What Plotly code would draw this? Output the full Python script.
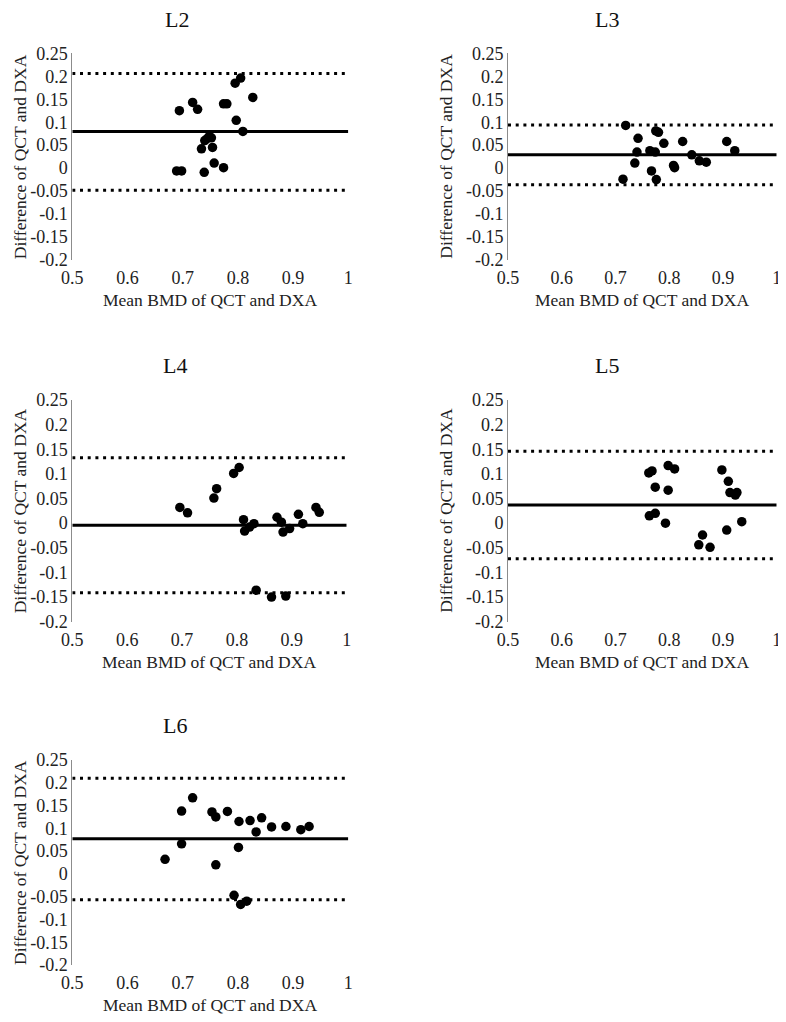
import plotly.graph_objects as go

# ---------------- data ----------------
panel_names = ["L2", "L3", "L4", "L5", "L6"]

l2_mean_bmd = [0.694, 0.718, 0.727, 0.774, 0.780, 0.795, 0.805, 0.827, 0.797, 0.809,
               0.734, 0.754, 0.740, 0.748, 0.744, 0.752, 0.757, 0.774, 0.739, 0.689, 0.698]
l2_diff = [0.125, 0.143, 0.128, 0.140, 0.140, 0.185, 0.196, 0.154, 0.104, 0.080,
           0.042, 0.045, 0.060, 0.069, 0.064, 0.066, 0.011, 0.001, -0.009, -0.006, -0.006]

l3_mean_bmd = [0.719, 0.775, 0.780, 0.742, 0.790, 0.825, 0.907, 0.922, 0.740, 0.764,
               0.774, 0.842, 0.856, 0.869, 0.736, 0.808, 0.810, 0.767, 0.714, 0.776]
l3_diff = [0.093, 0.081, 0.078, 0.065, 0.054, 0.058, 0.058, 0.038, 0.035, 0.038,
           0.035, 0.029, 0.016, 0.013, 0.011, 0.006, 0.001, -0.006, -0.024, -0.025]

l4_mean_bmd = [0.696, 0.710, 0.758, 0.763, 0.794, 0.804, 0.812, 0.814, 0.823, 0.831,
               0.873, 0.881, 0.884, 0.896, 0.912, 0.920, 0.944, 0.950, 0.835, 0.863, 0.889]
l4_diff = [0.032, 0.021, 0.051, 0.070, 0.101, 0.113, 0.007, -0.016, -0.008, -0.001,
           0.012, 0.002, -0.018, -0.011, 0.018, -0.001, 0.032, 0.022, -0.136, -0.150, -0.148]

l5_mean_bmd = [0.762, 0.768, 0.798, 0.810, 0.774, 0.798, 0.898, 0.910, 0.913, 0.926,
               0.923, 0.763, 0.774, 0.793, 0.935, 0.907, 0.862, 0.855, 0.876]
l5_diff = [0.102, 0.106, 0.117, 0.110, 0.073, 0.067, 0.108, 0.085, 0.062, 0.062,
           0.057, 0.015, 0.020, 0.000, 0.003, -0.014, -0.024, -0.044, -0.049]

l6_mean_bmd = [0.668, 0.698, 0.698, 0.718, 0.753, 0.760, 0.781, 0.760, 0.802, 0.822,
               0.843, 0.833, 0.861, 0.887, 0.914, 0.929, 0.801, 0.793, 0.805, 0.816]
l6_diff = [0.032, 0.138, 0.066, 0.167, 0.136, 0.125, 0.137, 0.020, 0.115, 0.117,
           0.123, 0.092, 0.103, 0.104, 0.097, 0.104, 0.058, -0.047, -0.067, -0.060]

mean_diff = [0.080, 0.029, -0.004, 0.037, 0.077]
upper_loa = [0.206, 0.094, 0.133, 0.146, 0.210]
lower_loa = [-0.048, -0.036, -0.141, -0.072, -0.057]

x_tick_vals = [0.5, 0.6, 0.7, 0.8, 0.9, 1.0]
x_tick_text = ["0.5", "0.6", "0.7", "0.8", "0.9", "1"]
y_tick_vals = [-0.2, -0.15, -0.1, -0.05, 0, 0.05, 0.1, 0.15, 0.2, 0.25]
y_tick_text = ["-0.2", "-0.15", "-0.1", "-0.05", "0", "0.05", "0.1", "0.15", "0.2", "0.25"]
x_range = [0.5, 1.0]
y_range = [-0.2, 0.25]

x_title = "Mean BMD of QCT and DXA"
y_title = "Difference of QCT and DXA"

xs = [l2_mean_bmd, l3_mean_bmd, l4_mean_bmd, l5_mean_bmd, l6_mean_bmd]
ys = [l2_diff, l3_diff, l4_diff, l5_diff, l6_diff]

# ---------------- layout (pixels in the 786x1022 window) ----------------
OFF = 8                      # default page body margin
W, H = 786 - OFF, 1022 - OFF
# plot area boxes: left, right, top, bottom
boxes = [
    (72.3, 348.3, 53.3, 260.0),
    (508.0, 776.7, 53.3, 260.0),
    (72.3, 346.7, 400.0, 621.7),
    (508.0, 776.7, 400.0, 621.7),
    (72.3, 348.3, 760.0, 965.0),
]
title_pos = [(176.7, 20), (606.7, 20), (175, 365), (606.7, 365), (175, 725)]
ytitle_x = [19.5, 446, 19.5, 446, 19.5]

FONT = "Liberation Serif"
TICK_SIZE = 18
TITLE_SIZE = 17.5
PANEL_TITLE_SIZE = 22


def px(x):
    return (x - OFF) / W


def py(y):
    return 1 - (y - OFF) / H


fig = go.Figure()
annotations = []
layout_axes = {}

for i, name in enumerate(panel_names):
    n = "" if i == 0 else str(i + 1)
    xa, ya = "x" + n, "y" + n
    left, right, top, bottom = boxes[i]

    layout_axes["xaxis" + n] = dict(
        domain=[px(left), px(right)], anchor=ya, range=x_range,
        tickvals=x_tick_vals, ticktext=x_tick_text, showgrid=False,
        zeroline=False, showline=False, ticks="", automargin=False,
        ticklabelstandoff=5,
        tickfont=dict(family=FONT, size=TICK_SIZE, color="#222"),
    )
    layout_axes["yaxis" + n] = dict(
        domain=[py(bottom), py(top)], anchor=xa, range=y_range,
        tickvals=y_tick_vals, ticktext=y_tick_text, showgrid=False,
        zeroline=False, showline=True, linecolor="#8c8c8c", linewidth=1,
        ticks="", automargin=False,
        tickfont=dict(family=FONT, size=TICK_SIZE, color="#222"),
    )

    # limits of agreement and mean difference
    for val, dash in ((upper_loa[i], "3px,4.7px"), (lower_loa[i], "3px,4.7px"),
                      (mean_diff[i], "solid")):
        fig.add_trace(go.Scatter(
            x=x_range, y=[val, val], mode="lines", xaxis=xa, yaxis=ya,
            line=dict(color="black", width=3, dash=dash),
            hoverinfo="skip", showlegend=False,
        ))

    fig.add_trace(go.Scatter(
        x=xs[i], y=ys[i], mode="markers", xaxis=xa, yaxis=ya,
        marker=dict(color="black", size=9.5, line=dict(width=0)),
        showlegend=False, name=name,
    ))

    tx, ty = title_pos[i]
    annotations.append(dict(
        text=name, x=px(tx), y=py(ty), xref="paper", yref="paper",
        showarrow=False, xanchor="center", yanchor="middle",
        font=dict(family=FONT, size=PANEL_TITLE_SIZE, color="#111"),
    ))
    annotations.append(dict(
        text=y_title, x=px(ytitle_x[i]), y=py((top + bottom) / 2),
        xref="paper", yref="paper", showarrow=False, textangle=-90,
        xanchor="center", yanchor="middle",
        font=dict(family=FONT, size=TITLE_SIZE, color="#222"),
    ))
    annotations.append(dict(
        text=x_title, x=px((left + right) / 2), y=py(bottom + 40),
        xref="paper", yref="paper", showarrow=False,
        xanchor="center", yanchor="middle",
        font=dict(family=FONT, size=TITLE_SIZE, color="#222"),
    ))

fig.update_layout(
    template="none",
    width=W, height=H, autosize=False,
    margin=dict(l=0, r=0, t=0, b=0, pad=0),
    paper_bgcolor="white", plot_bgcolor="white",
    annotations=annotations, showlegend=False,
    **layout_axes,
)

fig.write_html("out.html")
